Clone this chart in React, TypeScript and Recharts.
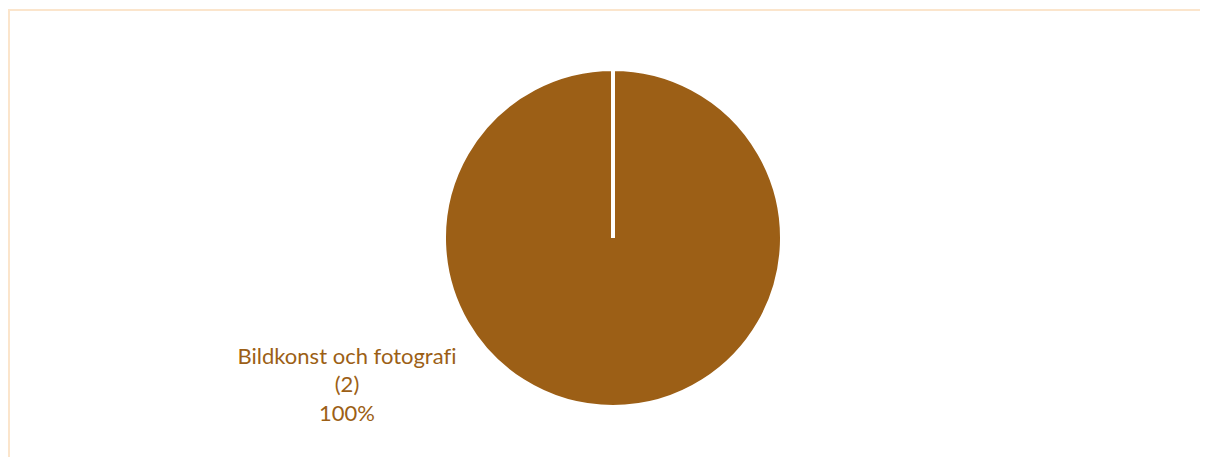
import { Pie, PieChart, Cell } from 'recharts'

const categories = ['Bildkonst och fotografi']
const counts = [2]
const shares = ['100%']

const BROWN = '#9C5F16'

const data = categories.map((name, i) => ({ name, value: counts[i], share: shares[i] }))

function renderLabel(props: any) {
  const { cx, cy, payload } = props
  const x = cx - 266
  const y = cy + 126
  return (
    <text
      x={x}
      y={y}
      textAnchor="middle"
      fill={BROWN}
      fontFamily="Lato, sans-serif"
      fontSize={22}
      style={{ fontVariantLigatures: 'none' }}
    >
      <tspan x={x} dy={0}>{payload.name}</tspan>
      <tspan x={x} dy={28}>({payload.value})</tspan>
      <tspan x={x} dy={29}>{payload.share}</tspan>
    </text>
  )
}

export default function App() {
  return (
    <div
      style={{
        width: 1200,
        height: 448,
        marginTop: 1,
        borderTop: '2px solid #FBE5CC',
        borderLeft: '2px solid #FBE5CC',
        background: '#fff',
      }}
    >
      <PieChart width={1198} height={446}>
        <Pie
          data={data}
          dataKey="value"
          nameKey="name"
          cx={598}
          cy={222}
          outerRadius={169}
          startAngle={90}
          endAngle={-270}
          stroke="#fff"
          strokeWidth={4}
          label={renderLabel}
          labelLine={false}
          isAnimationActive={false}
        >
          {data.map((d) => (
            <Cell key={d.name} fill={BROWN} />
          ))}
        </Pie>
      </PieChart>
    </div>
  )
}
